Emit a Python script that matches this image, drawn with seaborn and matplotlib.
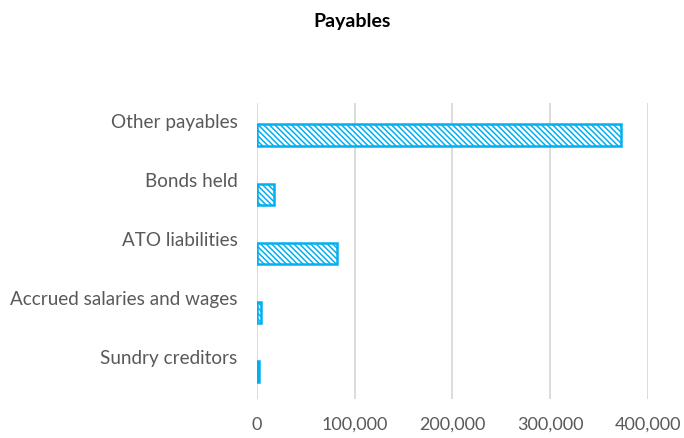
import matplotlib
matplotlib.use("Agg")
import matplotlib.pyplot as plt
import seaborn as sns
import pandas as pd

categories = ["Other payables", "Bonds held", "ATO liabilities",
              "Accrued salaries and wages", "Sundry creditors"]
values = [373000, 17500, 82000, 4000, 2000]
xticks = [0, 100000, 200000, 300000, 400000]
xtick_labels = ["0", "100,000", "200,000", "300,000", "400,000"]

sns.set_style("white")
plt.rcParams['font.family'] = ['Lato', 'DejaVu Sans']
plt.rcParams['hatch.linewidth'] = 1.1

cyan = "#00B0F0"
text_col = "#595959"

df = pd.DataFrame({"category": categories, "value": values})

fig = plt.figure(figsize=(6.84, 4.39), dpi=100)
ax = fig.add_axes([0.3757, 0.0888, 0.947 - 0.3757, 0.763 - 0.0888])

sns.barplot(data=df, x="value", y="category", order=categories, orient="h",
            color="white", width=0.36, ax=ax, linewidth=1.8, edgecolor=cyan)
for p in ax.patches:
    p.set_hatch("\\\\\\\\\\\\")
    p.set_edgecolor(cyan)
    p.set_facecolor("white")

ax.set_xlim(0, 400000)
ax.set_ylim(4.46, -0.54)
ax.set_xticks(xticks)
ax.set_xticklabels(xtick_labels, color=text_col, fontsize=13)
ax.set_yticks([i - 0.26 for i in range(len(categories))])
ax.set_yticklabels(categories, color=text_col, fontsize=13.6)
ax.tick_params(axis="both", length=0)
ax.tick_params(axis="x", pad=12)
ax.tick_params(axis="y", pad=14)
ax.set_xlabel("")
ax.set_ylabel("")
ax.grid(axis="x", color="#D9D9D9", linewidth=1.3)
ax.set_axisbelow(True)
for s in ax.spines.values():
    s.set_visible(False)

fig.text(0.515, 0.952, "Payables", ha="center", va="center", fontsize=14,
         fontweight="bold", color="black")

fig.savefig("out.png", dpi=100)
